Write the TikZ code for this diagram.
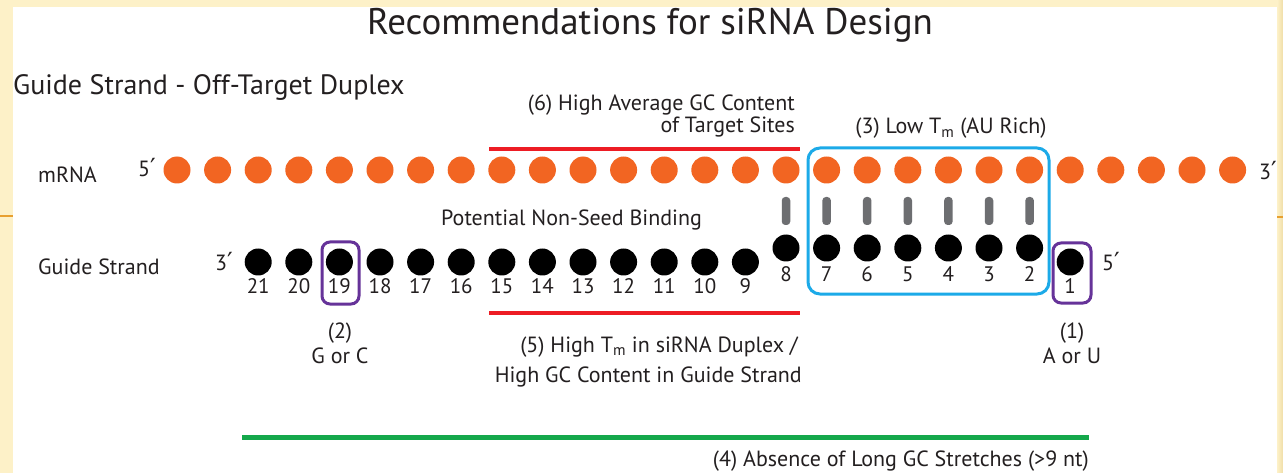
\documentclass[tikz,border=0pt]{standalone}
\usepackage{fontspec}
\setmainfont{PT Sans}
\newfontfamily\primefont{DejaVu Sans}
\newcommand{\primemark}{{\primefont\fontsize{25}{28}\selectfont ′}}
\definecolor{cream}{RGB}{253,241,200}
\definecolor{creamdark}{RGB}{240,222,168}
\definecolor{stripe}{RGB}{232,160,48}
\definecolor{rnaorange}{RGB}{242,101,34}
\definecolor{ink}{RGB}{35,31,32}
\definecolor{pairgray}{RGB}{109,110,113}
\definecolor{seedblue}{RGB}{28,170,232}
\definecolor{endpurple}{RGB}{102,51,153}
\definecolor{gcred}{RGB}{237,28,36}
\definecolor{gcgreen}{RGB}{20,168,75}
\tikzset{
  mrnant/.style={circle, fill=rnaorange, minimum size=27pt, inner sep=0pt},
  guident/.style={circle, fill=black, minimum size=27pt, inner sep=0pt},
  pairbar/.style={rectangle, rounded corners=3.5pt, fill=pairgray, minimum width=8.5pt, minimum height=28pt, inner sep=0pt},
  txt/.style={text=ink, inner sep=0pt, font=\fontsize{22}{26}\selectfont},
  numtxt/.style={text=ink, inner sep=0pt, anchor=base, font=\fontsize{21}{25}\selectfont},
  framebox/.style={line width=3pt, rounded corners=#1},
  markline/.style={line width=4pt},
}
\begin{document}
\begin{tikzpicture}[x=1pt, y=-1pt]
\useasboundingbox (0,0) rectangle (1283,473);
% page frame
\fill[cream] (0,0) rectangle (1283,473);
\shade[left color=cream, right color=creamdark] (1277,0) rectangle (1283,473);
\fill[white] (13,7) rectangle (1277,473);
\draw[stripe, line width=2pt] (0,216) -- (13,216);
\draw[stripe, line width=2pt] (1277,217) -- (1283,217);

% titles
\node[txt, anchor=base, font=\fontsize{37}{44}\selectfont] (title) at (650,35) {Recommendations for siRNA Design};
\node[txt, anchor=base west, font=\fontsize{28}{32}\selectfont] (subtitle) at (13,95) {Guide Strand - Off-Target Duplex};

% mRNA strand
\foreach \i in {0,...,26}
  \node[mrnant] (m\i) at ({177+40.6*\i},170) {};
\node[txt, anchor=base west] (mlab) at (38,183) {mRNA};
\node[txt, anchor=base west] (m5) at (138,177) {5\primemark};
\node[txt, anchor=base west] (m3) at (1259,180) {3\primemark};

% guide strand: seed region 2-8 sits closer to the mRNA
\foreach \n in {9,...,21}{
  \node[guident] (g\n) at ({177+40.6*(23-\n)},262) {};
  \node[numtxt] (n\n) at ({177+40.6*(23-\n)},294) {\n};
}
\foreach \n in {2,...,8}{
  \node[guident] (g\n) at ({177+40.6*(23-\n)},248) {};
  \node[numtxt] (n\n) at ({177+40.6*(23-\n)},281) {\n};
  \node[pairbar] (b\n) at ({177+40.6*(23-\n)},211) {};
}
\node[guident] (g1) at ({177+40.6*22},262) {};
\node[numtxt] (n1) at ({177+40.6*22},294) {1};
\node[txt, anchor=base west] (glab) at (38,275) {Guide Strand};
\node[txt, anchor=base west] (g3) at (215,270) {3\primemark};
\node[txt, anchor=base west] (g5) at (1102,270) {5\primemark};

% highlighted regions
\draw[seedblue, framebox=12pt] (808,148) rectangle (1049,294);
\draw[endpurple, framebox=8pt] (322,242) rectangle (359,304);
\draw[endpurple, framebox=8pt] (1053,243) rectangle (1091,303);
\draw[gcred, markline] (489,149) -- (800,149);
\draw[gcred, markline] (489,313) -- (800,313);
\draw[gcgreen, line width=5pt] (242,437) -- (1089,437);

% annotations
\node[txt, anchor=base east] (r6a) at (795,111) {(6) High Average GC Content};
\node[txt, anchor=base east] (r6b) at (795,133) {of Target Sites};
\node[txt, anchor=base] (r3) at (951,134) {(3) Low T\textsubscript{m} (AU Rich)};
\node[txt, anchor=base west] (nsb) at (441,226) {Potential Non-Seed Binding};
\node[txt, anchor=base] (r2a) at (340,338) {(2)};
\node[txt, anchor=base] (r2b) at (340,363) {G or C};
\node[txt, anchor=base] (r1a) at (1072,338) {(1)};
\node[txt, anchor=base] (r1b) at (1072,363) {A or U};
\node[txt, anchor=base east] (r5a) at (798,352) {(5) High T\textsubscript{m} in siRNA Duplex /};
\node[txt, anchor=base east] (r5b) at (802,382) {High GC Content in Guide Strand};
\node[txt, anchor=base east] (r4) at (1089,466) {(4) Absence of Long GC Stretches (>9 nt)};
\end{tikzpicture}
\end{document}
